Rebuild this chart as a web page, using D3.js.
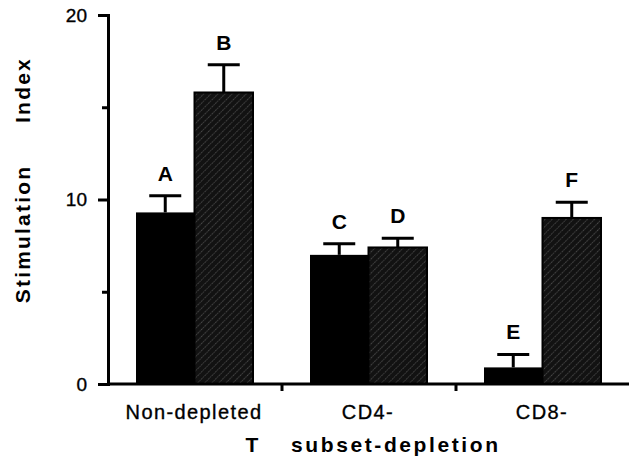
<!DOCTYPE html>
<html lang="en">
  <head>
    <meta charset="UTF-8" />
    <script src="https://d3js.org/d3.v7.min.js"></script>
    <style>
      body {
        margin: 0;
        background: #fff;
      }
      svg text {
        font-family: "Liberation Sans", Arial, Helvetica, sans-serif;
        fill: #000;
      }
      /* scanned print looks a touch heavier */
      svg text.plain {
        stroke: #000;
        stroke-width: 0.35px;
      }
    </style>
  </head>
  <body>
    <div id="chart"></div>
    <script>
      // data
      var groups = ["Non-depleted", "CD4-", "CD8-"];
      var blackValues = [9.3, 7.0, 0.9];
      var blackErrors = [0.9, 0.6, 0.7];
      var hatchedValues = [15.8, 7.4, 9.0];
      var hatchedErrors = [1.5, 0.5, 0.85];
      var blackLetters = ["A", "C", "E"];
      var hatchedLetters = ["B", "D", "F"];
      var yTicks = [0, 5, 10, 15, 20];
      var yLabels = [0, 10, 20];

      var width = 629;
      var height = 461;

      var svg = d3
        .select("#chart")
        .append("svg")
        .attr("width", width)
        .attr("height", height);

      // hatch pattern for the second series
      var defs = svg.append("defs");
      var pat = defs
        .append("pattern")
        .attr("id", "hatch")
        .attr("patternUnits", "userSpaceOnUse")
        .attr("width", 5)
        .attr("height", 5)
        .attr("patternTransform", "rotate(45)");
      pat.append("rect").attr("width", 5).attr("height", 5).attr("fill", "#121212");
      pat
        .append("line")
        .attr("x1", 0)
        .attr("y1", 0)
        .attr("x2", 0)
        .attr("y2", 5)
        .attr("stroke", "#8a8a8a")
        .attr("stroke-width", 0.9)
        .attr("stroke-dasharray", "1.2,1");

      var x = d3.scaleBand().domain(groups).range([108, 630]).padding(0);
      var inner = d3.scaleBand().domain(["black", "hatched"]).range([28, 145]);
      var y = d3.scaleLinear().domain([0, 20]).range([384, 15]);

      var rows = groups.map(function (g, i) {
        return [
          { group: g, key: "black", value: blackValues[i], err: blackErrors[i], letter: blackLetters[i] },
          { group: g, key: "hatched", value: hatchedValues[i], err: hatchedErrors[i], letter: hatchedLetters[i] },
        ];
      });
      var bars = rows.flat();

      function cx(d) {
        return x(d.group) + inner(d.key) + inner.bandwidth() / 2;
      }

      // bars
      svg
        .selectAll("rect.bar")
        .data(bars)
        .enter()
        .append("rect")
        .attr("class", "bar")
        .attr("x", (d) => x(d.group) + inner(d.key))
        .attr("y", (d) => y(d.value))
        .attr("width", inner.bandwidth())
        .attr("height", (d) => y(0) - y(d.value))
        .attr("fill", (d) => (d.key === "black" ? "#000" : "url(#hatch)"))
        .attr("stroke", "#000")
        .attr("stroke-width", (d) => (d.key === "black" ? 0 : 2));

      // error bars (upper only)
      svg
        .selectAll("line.err")
        .data(bars)
        .enter()
        .append("line")
        .attr("class", "err")
        .attr("x1", cx)
        .attr("x2", cx)
        .attr("y1", (d) => y(d.value))
        .attr("y2", (d) => y(d.value + d.err))
        .attr("stroke", "#000")
        .attr("stroke-width", 3);

      svg
        .selectAll("line.cap")
        .data(bars)
        .enter()
        .append("line")
        .attr("class", "cap")
        .attr("x1", (d) => cx(d) - 16)
        .attr("x2", (d) => cx(d) + 16)
        .attr("y1", (d) => y(d.value + d.err))
        .attr("y2", (d) => y(d.value + d.err))
        .attr("stroke", "#000")
        .attr("stroke-width", 3);

      // letters above the error bars
      svg
        .selectAll("text.letter")
        .data(bars)
        .enter()
        .append("text")
        .attr("class", "letter")
        .attr("x", cx)
        .attr("y", (d) => y(d.value + d.err) - 15)
        .attr("text-anchor", "middle")
        .style("font-size", "21px")
        .style("font-weight", "bold")
        .text((d) => d.letter);

      // y axis
      var yAxis = svg
        .append("g")
        .attr("transform", "translate(108,0)")
        .call(
          d3
            .axisLeft(y)
            .tickValues(yTicks)
            .tickSizeOuter(0)
            .tickSize(10)
            .tickPadding(10)
            .tickFormat((d) => (yLabels.indexOf(d) >= 0 ? d : ""))
        );
      yAxis.select(".domain").attr("stroke", "#000").attr("stroke-width", 3);
      yAxis
        .selectAll(".tick line")
        .attr("stroke", "#000")
        .attr("stroke-width", 3)
        .attr("x2", (d) => (yLabels.indexOf(d) >= 0 ? -10 : -6));
      yAxis
        .selectAll(".tick text")
        .attr("class", "plain")
        .style("font-size", "19px")
        .attr("x", -21)
        .attr("fill", "#000");

      // x axis
      svg
        .append("line")
        .attr("x1", 107)
        .attr("x2", 629)
        .attr("y1", y(0))
        .attr("y2", y(0))
        .attr("stroke", "#000")
        .attr("stroke-width", 3);

      svg
        .selectAll("line.xtick")
        .data(groups.slice(1))
        .enter()
        .append("line")
        .attr("class", "xtick")
        .attr("x1", (d) => x(d))
        .attr("x2", (d) => x(d))
        .attr("y1", y(0))
        .attr("y2", y(0) + 7)
        .attr("stroke", "#000")
        .attr("stroke-width", 3);

      svg
        .selectAll("text.xlabel")
        .data(groups)
        .enter()
        .append("text")
        .attr("class", "xlabel plain")
        .attr("x", (d) => x(d) + 86)
        .attr("y", 419)
        .attr("text-anchor", "middle")
        .style("font-size", "20px")
        .style("letter-spacing", "1.4px")
        .text((d) => d);

      // axis titles
      svg
        .append("text")
        .attr("x", 252)
        .attr("y", 452)
        .attr("text-anchor", "middle")
        .style("font-size", "21px")
        .style("font-weight", "bold")
        .text("T");
      svg
        .append("text")
        .attr("x", 291)
        .attr("y", 452)
        .style("font-size", "21px")
        .style("font-weight", "bold")
        .style("letter-spacing", "2.6px")
        .text("subset-depletion");

      svg
        .append("text")
        .attr("transform", "translate(30,234) rotate(-90)")
        .attr("text-anchor", "middle")
        .style("font-size", "21px")
        .style("font-weight", "bold")
        .style("letter-spacing", "2.2px")
        .text("Stimulation");
      svg
        .append("text")
        .attr("transform", "translate(30,90) rotate(-90)")
        .attr("text-anchor", "middle")
        .style("font-size", "21px")
        .style("font-weight", "bold")
        .style("letter-spacing", "2.2px")
        .text("Index");
    </script>
  </body>
</html>
